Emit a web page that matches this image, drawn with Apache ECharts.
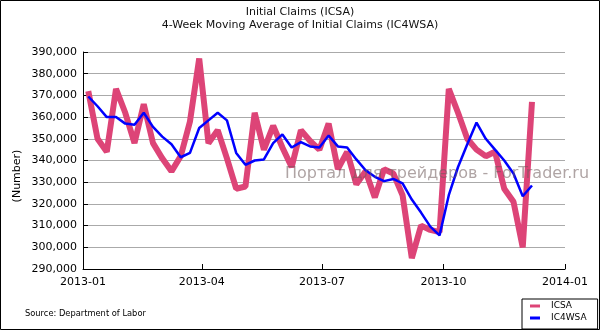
<!DOCTYPE html>
<html>
<head>
<meta charset="utf-8">
<script src="https://cdn.jsdelivr.net/npm/echarts@6/dist/echarts.min.js"></script>
<style>html,body{margin:0;padding:0;background:#fff;}#c{width:600px;height:330px;}</style>
</head>
<body>
<div id="c"></div>
<script>
// Weekly observation dates (week ending Saturday)
const dates = ['2013-01-05','2013-01-12','2013-01-19','2013-01-26',
  '2013-02-02','2013-02-09','2013-02-16','2013-02-23',
  '2013-03-02','2013-03-09','2013-03-16','2013-03-23','2013-03-30',
  '2013-04-06','2013-04-13','2013-04-20','2013-04-27',
  '2013-05-04','2013-05-11','2013-05-18','2013-05-25',
  '2013-06-01','2013-06-08','2013-06-15','2013-06-22','2013-06-29',
  '2013-07-06','2013-07-13','2013-07-20','2013-07-27',
  '2013-08-03','2013-08-10','2013-08-17','2013-08-24','2013-08-31',
  '2013-09-07','2013-09-14','2013-09-21','2013-09-28',
  '2013-10-05','2013-10-12','2013-10-19','2013-10-26',
  '2013-11-02','2013-11-09','2013-11-16','2013-11-23','2013-11-30',
  '2013-12-07'];
// ICSA values
const icsa = [372000,350000,344000,373000,362000,348000,366000,348000,
  341000,335000,342000,358000,387000,
  348000,354000,341000,327000,
  328000,362000,345000,356000,
  346000,337000,354000,349000,345000,
  357000,336000,344000,329000,
  335000,323000,336000,334000,324000,
  295000,310000,308000,307000,
  373000,362000,350000,345000,
  342000,344000,327000,321000,300000,
  367000];
// IC4WSA values
const ic4wsa = [369500,365000,360000,360000,357000,356500,362000,355500,
  351000,347500,341500,343500,355000,
  358500,362000,358500,343500,
  338000,340000,340500,348000,
  352000,346000,348500,346500,346000,
  351500,346500,346000,340500,
  335500,332500,330500,331500,329500,
  322000,316000,309500,305500,
  324000,337000,347500,357500,
  350000,345000,340000,334000,323500,
  328500];
// X tick label dates
const xTicks = ['2013-01-01','2013-04-01','2013-07-01','2013-10-01','2014-01-01'];
const yMin = 290000, yMax = 390000, yStep = 10000;

function ts(s){ const p = s.split('-'); return Date.UTC(+p[0], +p[1]-1, +p[2]); }
const tickVals = xTicks.map(ts);
const FONT = 'DejaVu Sans';

const chart = echarts.init(document.getElementById('c'), null, {renderer:'canvas'});
chart.setOption({
  animation: false,
  backgroundColor: '#fff',
  title: {
    text: 'Initial Claims (ICSA)\n4-Week Moving Average of Initial Claims (IC4WSA)',
    left: 300, top: 5, textAlign: 'center', padding: 0,
    textStyle: {fontFamily: FONT, fontSize: 11, fontWeight: 'normal', color: '#111', lineHeight: 13.5}
  },
  grid: {left: 83, right: 35, top: 52, bottom: 61, containLabel: false},
  legend: {
    data: ['ICSA','IC4WSA'], orient: 'vertical', left: 522, top: 299,
    padding: [2, 11, 6, 8], itemGap: 2, itemWidth: 10, itemHeight: 3, icon: 'rect',
    borderColor: '#000', borderWidth: 1, backgroundColor: '#fff',
    textStyle: {fontFamily: FONT, fontSize: 9, color: '#000', lineHeight: 10, padding: [0,0,0,6]}
  },
  xAxis: {
    type: 'value', min: tickVals[0], max: tickVals[tickVals.length-1],
    axisLine: {lineStyle: {color: '#000', width: 1}},
    axisTick: {inside: true, length: 5, lineStyle: {color: '#000'}, customValues: tickVals},
    axisLabel: {customValues: tickVals, margin: 8, fontFamily: FONT, fontSize: 11, color: '#000',
      formatter: function(v){ const d = new Date(v); return d.getUTCFullYear() + '-' + String(d.getUTCMonth()+1).padStart(2,'0'); }},
    splitLine: {show: false}
  },
  yAxis: {
    type: 'value', min: yMin, max: yMax, interval: yStep,
    axisLine: {show: true, lineStyle: {color: '#000', width: 1}},
    axisTick: {show: true, inside: true, length: 5, lineStyle: {color: '#000'}},
    axisLabel: {margin: 6, fontFamily: FONT, fontSize: 11, color: '#000',
      formatter: function(v){ return v.toString().replace(/\B(?=(\d{3})+(?!\d))/g, ','); }},
    splitLine: {show: true, lineStyle: {color: '#aaaaaa', width: 1}}
  },
  series: [
    {name: 'ICSA', type: 'line', data: dates.map((d,i)=>[ts(d), icsa[i]]), showSymbol: false,
      itemStyle: {color: '#dd4477'}, lineStyle: {color: '#dd4477', width: 6}, z: 2},
    {name: 'IC4WSA', type: 'line', data: dates.map((d,i)=>[ts(d), ic4wsa[i]]), showSymbol: false,
      itemStyle: {color: '#0000ff'}, lineStyle: {color: '#0000ff', width: 2.5}, z: 3}
  ],
  graphic: [
    {type: 'text', x: 17, y: 176, rotation: Math.PI/2, z: 5,
      style: {text: '(Number)', fontFamily: FONT, fontSize: 11, fill: '#000', textAlign: 'center', textVerticalAlign: 'middle'}},
    {type: 'text', x: 25, y: 314, z: 5,
      style: {text: 'Source: Department of Labor', fontFamily: FONT, fontSize: 8.3, fill: '#000', textVerticalAlign: 'middle'}},
    {type: 'text', x: 285, y: 174, z: 50,
      style: {text: 'Портал для трейдеров - ForTrader.ru', fontFamily: FONT, fontSize: 16, fill: 'rgba(110,90,90,0.55)', textVerticalAlign: 'middle'}},
    {type: 'rect', z: 100, shape: {x: 0.5, y: 0.5, width: 599, height: 329},
      style: {fill: 'none', stroke: '#000', lineWidth: 1}}
  ]
});
</script>
</body>
</html>
